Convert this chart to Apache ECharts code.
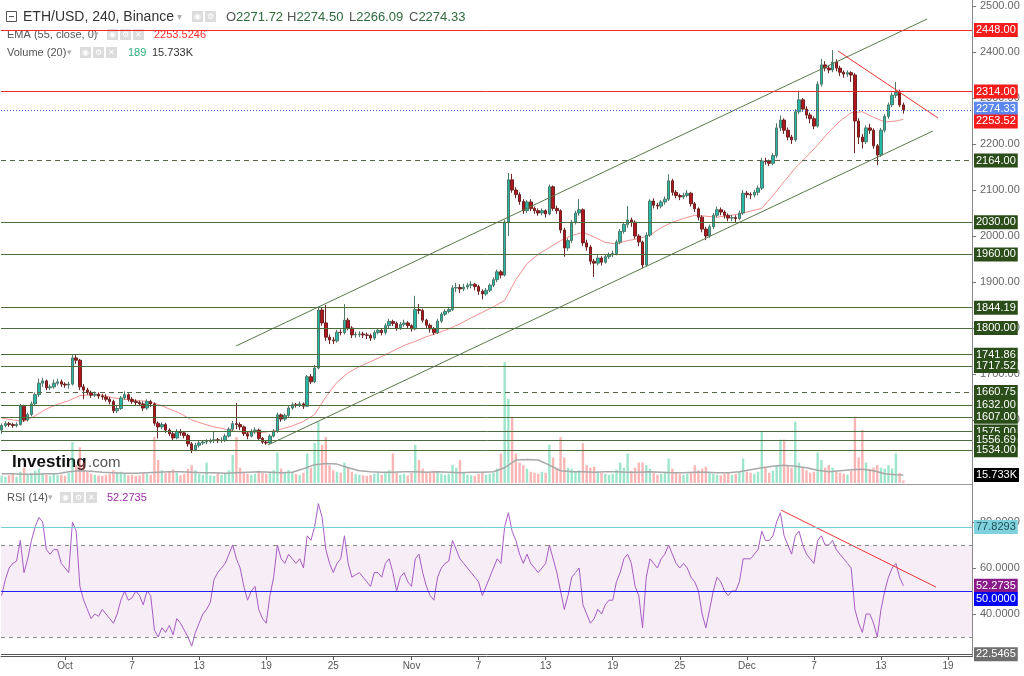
<!DOCTYPE html>
<html><head><meta charset="utf-8">
<script src="https://cdn.jsdelivr.net/npm/echarts@6/dist/echarts.min.js"></script>
<style>html,body{margin:0;padding:0;background:#fff;overflow:hidden}#c{width:1024px;height:676px}</style>
</head><body><div id="c"></div>
<script>
// ---------------- DATA ----------------
// time in days from 1 Oct (00:00); first bar 25 Sep 08:00, 8-hour bars
const startDay = -17 / 3;
const barHours = 8;
// [open, close, low, high]
const candles = [
[1578,1588,1570,1592],[1588,1592,1584,1597],[1592,1590,1585,1596],[1590,1588,1583,1594],[1588,1590,1584,1595],
[1590,1630,1588,1635],[1630,1600,1596,1633],[1600,1612,1597,1616],[1612,1635,1608,1640],[1635,1655,1630,1660],
[1655,1680,1650,1690],[1680,1685,1672,1692],[1685,1670,1665,1688],[1670,1672,1665,1677],[1672,1680,1668,1688],
[1680,1683,1675,1690],[1683,1678,1672,1688],[1678,1676,1670,1682],[1676,1678,1668,1683],[1678,1735,1675,1741],
[1735,1730,1722,1741],[1730,1672,1665,1733],[1672,1665,1645,1678],[1665,1660,1655,1670],[1660,1654,1648,1664],
[1654,1656,1650,1662],[1656,1652,1646,1660],[1652,1650,1644,1657],[1650,1645,1640,1656],[1645,1640,1634,1650],
[1640,1620,1615,1644],[1620,1625,1615,1632],[1625,1648,1622,1652],[1648,1655,1644,1662],[1655,1645,1640,1658],
[1645,1640,1635,1650],[1640,1638,1632,1645],[1638,1635,1630,1642],[1635,1626,1620,1640],[1626,1640,1622,1645],
[1640,1635,1628,1644],[1635,1593,1588,1638],[1593,1585,1560,1597],[1585,1590,1580,1595],[1590,1578,1572,1594],
[1578,1570,1565,1582],[1570,1561,1556,1574],[1561,1575,1558,1580],[1575,1572,1566,1580],[1572,1566,1560,1576],
[1566,1548,1542,1570],[1548,1535,1528,1552],[1535,1545,1532,1550],[1545,1550,1540,1554],[1550,1552,1546,1556],
[1552,1553,1547,1558],[1553,1555,1549,1560],[1555,1557,1550,1575],[1557,1555,1550,1561],[1555,1556,1550,1562],
[1556,1565,1552,1570],[1565,1580,1562,1584],[1580,1592,1576,1598],[1592,1590,1580,1637],[1590,1585,1578,1595],
[1585,1570,1565,1588],[1570,1565,1558,1574],[1565,1575,1562,1580],[1575,1578,1570,1584],[1578,1560,1555,1581],
[1560,1552,1548,1563],[1552,1550,1546,1556],[1550,1565,1548,1569],[1565,1575,1562,1580],[1575,1611,1572,1616],
[1611,1602,1596,1614],[1602,1610,1598,1614],[1610,1626,1606,1630],[1626,1633,1622,1638],[1633,1632,1627,1637],
[1632,1635,1628,1640],[1635,1630,1624,1638],[1630,1694,1628,1698],[1694,1683,1678,1700],[1683,1713,1680,1720],
[1713,1839,1710,1846],[1839,1811,1805,1845],[1811,1780,1772,1850],[1780,1774,1765,1786],[1774,1772,1765,1780],
[1772,1791,1768,1796],[1791,1790,1784,1797],[1790,1817,1786,1852],[1817,1800,1795,1822],[1800,1785,1778,1804],
[1785,1786,1779,1792],[1786,1787,1780,1793],[1787,1785,1778,1792],[1785,1784,1776,1790],[1784,1778,1772,1788],
[1778,1790,1774,1795],[1790,1795,1786,1800],[1795,1790,1784,1799],[1790,1805,1786,1810],[1805,1814,1800,1820],
[1814,1810,1804,1818],[1810,1800,1794,1814],[1800,1808,1796,1813],[1808,1811,1803,1818],[1811,1805,1799,1815],
[1805,1798,1792,1808],[1798,1840,1795,1870],[1840,1838,1830,1852],[1838,1817,1812,1842],[1817,1806,1800,1820],
[1806,1798,1790,1810],[1798,1790,1785,1802],[1790,1815,1787,1820],[1815,1830,1811,1834],[1830,1836,1826,1841],
[1836,1840,1832,1845],[1840,1887,1837,1893],[1887,1888,1878,1898],[1888,1885,1876,1895],[1885,1889,1880,1896],
[1889,1893,1884,1898],[1893,1895,1886,1902],[1895,1890,1882,1898],[1890,1880,1872,1894],[1880,1874,1862,1884],
[1874,1882,1870,1887],[1882,1893,1878,1897],[1893,1905,1889,1910],[1905,1922,1900,1927],[1922,1915,1908,1926],
[1915,2030,1912,2035],[2030,2122,2000,2137],[2122,2100,2094,2135],[2100,2090,2082,2106],[2090,2075,2068,2095],
[2075,2055,2048,2080],[2055,2074,2050,2078],[2074,2060,2054,2080],[2060,2055,2048,2064],[2055,2050,2044,2060],
[2050,2055,2045,2060],[2055,2048,2040,2058],[2048,2107,2045,2112],[2107,2060,2055,2110],[2060,2055,2048,2066],
[2055,2013,2006,2058],[2013,1974,1955,2018],[1974,1990,1968,1995],[1990,2030,1985,2035],[2030,2050,2025,2055],
[2050,2057,2044,2080],[2057,1985,1978,2060],[1985,1976,1968,1992],[1976,1945,1938,1980],[1945,1941,1911,1950],
[1941,1952,1936,1958],[1952,1943,1936,1956],[1943,1955,1940,1960],[1955,1959,1950,1964],[1959,1962,1954,1968],
[1962,1987,1958,1992],[1987,2010,1982,2015],[2010,2025,2005,2030],[2025,2035,2018,2065],[2035,2030,2020,2040],
[2030,2000,1994,2034],[2000,1987,1978,2004],[1987,1937,1930,1990],[1937,2002,1934,2008],[2002,2076,1998,2080],
[2076,2067,2060,2082],[2067,2065,2058,2072],[2065,2074,2060,2078],[2074,2080,2068,2086],[2080,2120,2076,2134],
[2120,2095,2088,2124],[2095,2088,2082,2100],[2088,2085,2078,2092],[2085,2088,2080,2094],[2088,2093,2084,2100],
[2093,2070,2064,2096],[2070,2059,2052,2074],[2059,2041,2034,2062],[2041,2015,2008,2045],[2015,2000,1991,2020],
[2000,2020,1996,2025],[2020,2045,2015,2050],[2045,2057,2040,2064],[2057,2052,2045,2062],[2052,2045,2038,2056],
[2045,2039,2032,2049],[2039,2040,2032,2046],[2040,2038,2030,2045],[2038,2050,2034,2055],[2050,2093,2046,2100],
[2093,2090,2083,2098],[2090,2089,2080,2095],[2089,2095,2084,2100],[2095,2104,2088,2110],[2104,2163,2100,2170],
[2163,2162,2155,2170],[2162,2158,2152,2166],[2158,2175,2154,2180],[2175,2235,2170,2245],[2235,2252,2228,2262],
[2252,2230,2222,2256],[2230,2215,2208,2236],[2215,2209,2200,2220],[2209,2270,2205,2276],[2270,2296,2265,2316],
[2296,2276,2270,2300],[2276,2263,2255,2282],[2263,2255,2245,2268],[2255,2239,2232,2260],[2239,2330,2236,2336],
[2330,2372,2325,2385],[2372,2365,2358,2380],[2365,2361,2354,2370],[2361,2378,2356,2404],[2378,2365,2358,2384],
[2365,2356,2348,2370],[2356,2352,2344,2360],[2352,2355,2346,2360],[2355,2350,2335,2358],[2350,2250,2180,2354],
[2250,2215,2200,2256],[2215,2205,2190,2222],[2205,2235,2200,2240],[2235,2230,2222,2244],[2230,2196,2190,2234],
[2196,2176,2154,2200],[2176,2230,2172,2235],[2230,2260,2225,2265],[2260,2285,2255,2290],[2285,2306,2280,2312],
[2306,2312,2300,2335],[2312,2285,2280,2318],[2285,2274.33,2266.09,2290]
];
// volume (thousands) per bar
const volumes = [
14,12,15,18,12,22,30,18,20,24, 28,20,16,14,18,15,16,14,20,80,
35,70,40,22,18,16,15,14,16,18, 25,20,22,20,15,16,14,15,20,18,
16,90,45,25,20,22,26,20,15,18, 28,35,25,18,16,40,15,14,20,16,
18,25,55,90,30,20,18,16,18,24, 20,18,22,25,60,28,20,25,22,18,
16,20,58,30,78,120,75,90,35,25, 22,20,40,30,22,18,16,15,14,16,
18,20,16,22,25,58,20,16,18,15, 20,75,45,28,20,22,24,22,18,16,
18,35,30,45,20,16,15,14,18,22, 16,18,20,28,58,237,165,130,58,40,
35,28,22,20,18,22,20,75,50,30, 90,50,30,28,22,25,78,35,30,32,
22,20,18,16,18,26,40,30,58,24, 30,40,40,35,28,20,16,18,22,48,
28,20,18,16,18,22,35,25,28,32, 22,18,16,15,18,20,16,18,22,48,
22,20,18,22,100,30,20,24,35,85, 85,35,30,120,40,30,25,20,22,60,
45,30,35,30,22,20,18,16,24,130, 50,104,40,28,30,35,30,28,35,28,
58,20,5
];
// RSI(14) per bar
const rsi = [
48,55,60,62,63,72,58,64,72,78, 82,80,68,66,68,68,62,60,58,80,
76,52,46,42,38,40,39,42,40,38, 36,40,46,50,46,47,50,48,44,50,
48,33,30,34,32,35,31,38,36,33, 30,26,32,36,40,42,45,55,58,60,
62,66,70,64,60,52,46,50,52,42, 38,36,48,56,70,64,62,66,64,62,
64,60,74,72,78,88,82,68,62,58, 62,64,74,62,56,57,58,56,54,52,
58,58,56,62,64,58,50,56,58,54, 52,64,66,58,52,48,46,56,60,62,
63,72,68,64,62,60,58,56,54,48, 52,56,60,64,62,78,84,76,72,66,
62,66,62,60,58,60,62,70,64,58, 50,42,48,56,58,60,44,40,36,38,
42,40,44,46,46,54,58,64,66,62, 52,48,34,56,64,62,60,64,66,70,
66,62,60,62,60,56,54,50,40,34, 42,50,56,54,50,48,50,50,54,64,
64,64,66,68,76,72,72,74,80,84, 74,70,66,74,76,70,66,64,62,72,
74,70,70,72,68,66,64,62,60,42, 36,32,40,40,36,30,42,50,56,60,
62,56,52.2735
];
// EMA(55) sampled once per day (every 3rd bar, last = final bar)
const emaDaily = [
1604,1600,1597,1609,1624,1634,1642,1653,1655,1654,
1648,1645,1642,1641,1634,1624,1614,1600,1592,1585,
1580,1575,1573,1572,1575,1580,1587,1597,1612,1650,
1682,1703,1716,1727,1738,1750,1762,1771,1781,1789,
1798,1809,1822,1834,1846,1860,1905,1940,1960,1975,
1990,2001,2008,1998,1986,1983,1990,1994,2002,2018,
2030,2038,2045,2043,2041,2044,2048,2054,2060,2088,
2118,2148,2172,2198,2226,2250,2268,2270,2258,2248,
2250,2253.52
];
// Volume MA(20), thousands, sampled once per day
const volMaDaily = [
18,18,17,17,18,18,22,24,23,21, 20,19,19,20,21,22,22,21,20,20,
19,20,21,22,21,20,21,28,36,38, 37,30,24,22,21,21,22,22,21,22,
21,20,21,21,22,30,45,46,45,35, 24,22,22,21,22,22,21,21,22,21,
20,20,21,21,20,20,22,26,30,33, 35,33,30,25,22,24,26,27,24,18,
16,15.733
];
const xTickDays = [0,6,12,18,24,31,37,43,49,55,61,67,73,79];
const xTickLabels = ['Oct','7','13','19','25','Nov','7','13','19','25','Dec','7','13','19'];
const priceTicks = [1600,1700,1800,1900,2000,2100,2200,2300,2400,2500];
const rsiTicks = [40,60,80];
const redLevels = [2448, 2314];
const greenLevels = [2030, 1960, 1844.19, 1800, 1741.86, 1717.52, 1632, 1607, 1575, 1556.69, 1534];
const dashedLevels = [2164, 1660.75];
const lastPrice = 2274.33;
const emaLast = 2253.52;
const volMaLast = 15.733;
const rsiLast = 52.2735;
const rsiUpper = 77.8293, rsiMid = 50, rsiLower = 22.5465;
const rsiBand = [30, 70];
// trend lines: [day, value]
const channelUpper = [[15.30, 1760.9], [77.12, 2471.7]];
const channelLower = [[18.16, 1545.7], [77.65, 2228.3]];
const priceResistance = [[69.15, 2402.2], [78.10, 2256.5]];
const rsiResistance = [[64.05, 85.2], [77.92, 51.7]];

// ---------------- CHART ----------------
const FONT = "'Liberation Sans', Arial, sans-serif";
const NARROW = "'Liberation Sans Narrow', 'Arial Narrow', 'Liberation Sans', sans-serif";
const N = candles.length;
const day = i => startDay + i * barHours / 24;
const X_MIN = -5.7256, X_MAX = 81.141;

const candleData = candles.map((c, i) => [day(i), c[0], c[1], c[2], c[3]]);
const volData = volumes.map((v, i) => ({
  value: [day(i), v],
  itemStyle: { color: candles[i][1] >= candles[i][0] ? 'rgba(40,200,140,0.45)' : 'rgba(245,90,90,0.45)' }
}));
const rsiData = rsi.map((v, i) => [day(i), v]);
const emaData = emaDaily.map((v, k) => [day(Math.min(k * 3, N - 1)), v]);
const volMaData = volMaDaily.map((v, k) => [day(Math.min(k * 3, N - 1)), v]);

function lbl(text, bg, color, dy) {
  return { show: true, position: 'end', distance: 2, formatter: text, backgroundColor: bg,
    color: color || '#fff', padding: [2, 2, 1, 2], fontSize: 11, fontFamily: FONT, lineHeight: 11,
    offset: [0, dy || 0] };
}
const priceMarks = [];
redLevels.forEach(v => priceMarks.push({ yAxis: v, lineStyle: { color: '#f22b2b', width: 1, type: 'solid' }, label: lbl(v.toFixed(2), '#f51c1c') }));
greenLevels.forEach(v => priceMarks.push({ yAxis: v, lineStyle: { color: '#4d6e3b', width: 1, type: 'solid' }, label: lbl(v.toFixed(2), '#2b4d19') }));
dashedLevels.forEach(v => priceMarks.push({ yAxis: v, lineStyle: { color: '#56684c', width: 1, type: [5, 4] }, label: lbl(v.toFixed(2), '#2b4d19') }));
priceMarks.push({ yAxis: lastPrice, lineStyle: { color: '#3b66e0', width: 1, type: [1, 2] }, label: lbl(lastPrice.toFixed(2), '#5b86ee', '#fff', -1) });
priceMarks.push({ yAxis: emaLast, lineStyle: { color: 'rgba(0,0,0,0)', width: 0 }, label: lbl(emaLast.toFixed(2), '#f51c1c', '#fff', 2) });

const rsiMarks = [
  { yAxis: rsiUpper, lineStyle: { color: '#74cfdc', width: 1, type: 'solid' }, label: lbl(rsiUpper.toFixed(4), '#7fd2dd', '#1f4f57') },
  { yAxis: rsiBand[1], lineStyle: { color: '#8a8a8a', width: 1, type: [4, 4] }, label: { show: false } },
  { yAxis: rsiBand[0], lineStyle: { color: '#8a8a8a', width: 1, type: [4, 4] }, label: { show: false } },
  { yAxis: rsiLast, lineStyle: { color: 'rgba(0,0,0,0)', width: 0 }, label: lbl(rsiLast.toFixed(4), '#8a1a8a') },
  { yAxis: rsiMid, lineStyle: { color: '#2020ff', width: 1, type: 'solid' }, label: lbl(rsiMid.toFixed(4), '#0000ff', '#fff', 8) },
  { yAxis: rsiLower, lineStyle: { color: '#555', width: 1, type: 'solid' }, label: lbl(rsiLower.toFixed(4), '#6e6e6e') }
];

const chart = echarts.init(document.getElementById('c'), null, { renderer: 'canvas' });

function icons(x, y, n) {
  const glyphs = ['◉', '⚙', '✕'];
  const out = [];
  for (let k = 0; k < n; k++) {
    out.push({ type: 'rect', shape: { x: x + k * 13, y: y - 6, width: 11, height: 11 }, style: { fill: '#dcdcdc' }, silent: true });
    out.push({ type: 'text', x: x + k * 13 + 5.5, y: y, style: { text: glyphs[k], fill: '#fff', font: '8px ' + FONT, align: 'center', verticalAlign: 'middle' }, silent: true });
  }
  return out;
}
function txt(x, y, text, font, fill) {
  return { type: 'text', x: x, y: y, silent: true, style: { text: text, font: font, fill: fill, verticalAlign: 'middle' } };
}
function ohlcText(x, letter, value) {
  return { type: 'text', x: x, y: 17, silent: true, style: { text: '{l|' + letter + '}{v|' + value + '}', verticalAlign: 'middle',
    rich: { l: { fill: '#555', font: '13px ' + FONT }, v: { fill: '#2f6a3c', font: '13px ' + FONT } } } };
}

const graphics = [
  { type: 'line', shape: { x1: 0, y1: 484.5, x2: 972, y2: 484.5 }, style: { stroke: '#9a9a9a', lineWidth: 1 }, silent: true },
  { type: 'line', shape: { x1: 972.5, y1: 0, x2: 972.5, y2: 657 }, style: { stroke: '#8a8a8a', lineWidth: 1 }, silent: true },
  { type: 'rect', shape: { x: 6.5, y: 11.5, width: 10, height: 10 }, style: { fill: '#fff', stroke: '#555', lineWidth: 1 }, silent: true },
  { type: 'line', shape: { x1: 9, y1: 16.5, x2: 14, y2: 16.5 }, style: { stroke: '#555', lineWidth: 1 }, silent: true },
  txt(23, 17, 'ETH/USD, 240, Binance', '14px ' + FONT, '#333'),
  txt(177, 17, '▾', '10px ' + FONT, '#b0b0b0'),
  ...icons(192, 17, 2),
  ohlcText(226, 'O', '2271.72'),
  ohlcText(287, 'H', '2274.50'),
  ohlcText(349, 'L', '2266.09'),
  ohlcText(409, 'C', '2274.33'),
  txt(7, 35, 'EMA (55, close, 0)', '11px ' + FONT, '#555'),
  txt(94, 35, '▾', '9px ' + FONT, '#b0b0b0'),
  ...icons(107, 35, 3),
  txt(154, 35, '2253.5246', '11px ' + FONT, '#ff2a2a'),
  txt(7, 53, 'Volume (20)', '11px ' + FONT, '#555'),
  txt(67, 53, '▾', '9px ' + FONT, '#b0b0b0'),
  ...icons(80, 53, 3),
  txt(128, 53, '189', '11px ' + FONT, '#2bb07a'),
  txt(152, 53, '15.733K', '11px ' + FONT, '#333'),
  txt(7, 498, 'RSI (14)', '11px ' + FONT, '#555'),
  txt(48, 498, '▾', '9px ' + FONT, '#b0b0b0'),
  ...icons(60, 498, 3),
  txt(107, 498, '52.2735', '11px ' + FONT, '#9c2aa8'),
  txt(12, 462, 'Investing', 'bold 17px ' + FONT, '#111'),
  txt(88, 463, '.com', '15px ' + FONT, '#555')
];

const option = {
  animation: false,
  backgroundColor: '#fff',
  grid: [
    { left: 1, top: 6, width: 971, height: 477 },
    { left: 1, top: 487, width: 971, height: 169 }
  ],
  xAxis: [
    { type: 'value', gridIndex: 0, min: X_MIN, max: X_MAX, show: false },
    { type: 'value', gridIndex: 1, min: X_MIN, max: X_MAX, splitLine: { show: false },
      axisLine: { show: true, onZero: false, lineStyle: { color: '#555' } },
      axisTick: { show: true, length: 4, customValues: xTickDays, lineStyle: { color: '#555' } },
      axisLabel: { show: true, customValues: xTickDays, margin: 5, color: '#555', fontSize: 10, fontFamily: NARROW,
        formatter: v => { const k = xTickDays.indexOf(Math.round(v)); return k >= 0 ? xTickLabels[k] : ''; } } }
  ],
  yAxis: [
    { type: 'value', gridIndex: 0, position: 'right', min: 1463, max: 2500, splitLine: { show: false },
      axisLine: { show: false, onZero: false }, axisTick: { show: true, length: 4, customValues: priceTicks, lineStyle: { color: '#777' } },
      axisLabel: { customValues: priceTicks, margin: 8, color: '#666', fontSize: 11, fontFamily: FONT, formatter: v => v.toFixed(2) } },
    { type: 'value', gridIndex: 0, min: 0, max: 935, show: false, axisLine: { onZero: false } },
    { type: 'value', gridIndex: 1, position: 'right', min: 21.739, max: 95.217, splitLine: { show: false },
      axisLine: { show: false, onZero: false }, axisTick: { show: true, length: 4, customValues: rsiTicks, lineStyle: { color: '#777' } },
      axisLabel: { customValues: rsiTicks, margin: 8, color: '#666', fontSize: 11, fontFamily: FONT, formatter: v => v.toFixed(4) } }
  ],
  graphic: graphics,
  series: [
    { type: 'bar', name: 'Volume', xAxisIndex: 0, yAxisIndex: 1, data: volData, barWidth: 2.4, z: 1, silent: true },
    { type: 'line', name: 'VolMA', xAxisIndex: 0, yAxisIndex: 1, data: volMaData, symbol: 'none', z: 2, silent: true,
      lineStyle: { color: '#a8a8a8', width: 1.5 },
      markLine: { silent: true, symbol: 'none', animation: false,
        data: [{ yAxis: volMaLast, lineStyle: { color: 'rgba(0,0,0,0)', width: 0 }, label: lbl('15.733K', '#000') }] } },
    { type: 'line', name: 'EMA', xAxisIndex: 0, yAxisIndex: 0, data: emaData, symbol: 'none', z: 2, silent: true,
      lineStyle: { color: '#f49090', width: 1 },
      markLine: { silent: true, symbol: 'none', animation: false, data: priceMarks } },
    { type: 'candlestick', name: 'ETH', xAxisIndex: 0, yAxisIndex: 0, data: candleData, encode: { x: 0, y: [1, 2, 3, 4] },
      barWidth: 3, z: 3, silent: true,
      itemStyle: { color: '#27b8a8', color0: '#b0161c', borderColor: '#4e7868', borderColor0: '#6e2424', borderWidth: 1 } },
    { type: 'line', xAxisIndex: 0, yAxisIndex: 0, data: channelUpper, symbol: 'none', z: 4, silent: true, lineStyle: { color: '#5a7a48', width: 1 } },
    { type: 'line', xAxisIndex: 0, yAxisIndex: 0, data: channelLower, symbol: 'none', z: 4, silent: true, lineStyle: { color: '#5a7a48', width: 1 } },
    { type: 'line', xAxisIndex: 0, yAxisIndex: 0, data: priceResistance, symbol: 'none', z: 4, silent: true, lineStyle: { color: '#f03535', width: 1 } },
    { type: 'line', name: 'RSI', xAxisIndex: 1, yAxisIndex: 2, data: rsiData, symbol: 'none', z: 3, silent: true,
      lineStyle: { color: '#a95cc4', width: 1 },
      markArea: { silent: true, data: [[{ yAxis: rsiBand[0] }, { yAxis: rsiBand[1] }]], itemStyle: { color: 'rgba(150,60,160,0.09)' } },
      markLine: { silent: true, symbol: 'none', animation: false, data: rsiMarks } },
    { type: 'line', xAxisIndex: 1, yAxisIndex: 2, data: rsiResistance, symbol: 'none', z: 4, silent: true, lineStyle: { color: '#f03535', width: 1 } }
  ]
};
chart.setOption(option);
</script>
</body></html>
